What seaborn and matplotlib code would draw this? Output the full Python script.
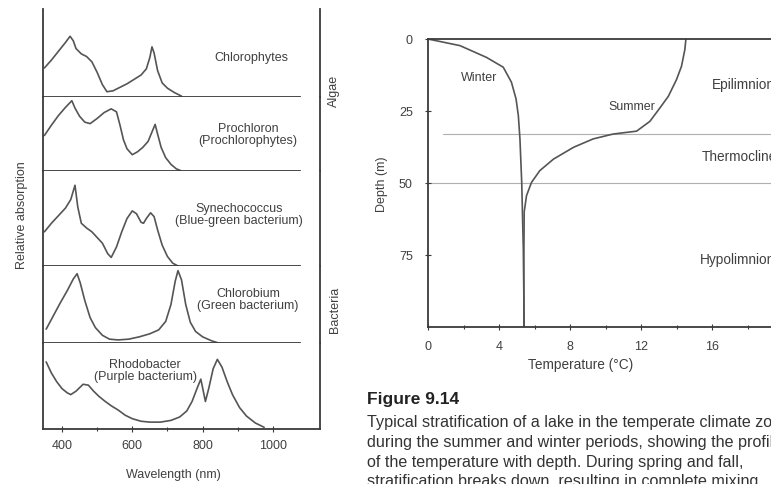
import numpy as np
import pandas as pd
import seaborn as sns
import matplotlib.pyplot as plt

W, H = 771, 485
INK = '#3a3a3a'
LINE = '#555555'
TXT = '#404040'

# absorption spectra, relative absorption (0-1 of each strip)
chloro_nm = [350, 370, 390, 410, 423, 432, 440, 455, 470, 485, 500, 515, 528, 545, 565, 585,
             605, 625, 640, 650, 656, 662, 672, 685, 700, 720, 740]
chloro_abs = [0.33, 0.42, 0.52, 0.62, 0.69, 0.64, 0.55, 0.49, 0.46, 0.40, 0.28, 0.14, 0.06, 0.07,
              0.11, 0.15, 0.20, 0.25, 0.32, 0.45, 0.57, 0.50, 0.30, 0.16, 0.10, 0.05, 0.01]

prochl_nm = [350, 370, 390, 410, 428, 437, 450, 465, 480, 500, 520, 540, 555, 565, 575, 585, 600,
             615, 630, 645, 658, 665, 672, 682, 695, 710, 725, 740]
prochl_abs = [0.48, 0.62, 0.75, 0.86, 0.95, 0.85, 0.74, 0.66, 0.64, 0.71, 0.79, 0.84, 0.80, 0.62,
              0.42, 0.30, 0.22, 0.26, 0.32, 0.40, 0.55, 0.63, 0.50, 0.32, 0.18, 0.09, 0.03, 0.0]

synech_nm = [350, 370, 390, 410, 425, 437, 445, 455, 470, 485, 500, 515, 530, 540, 555, 570, 585,
             600, 612, 625, 632, 640, 652, 662, 672, 685, 700, 715, 730]
synech_abs = [0.36, 0.45, 0.53, 0.61, 0.70, 0.85, 0.62, 0.45, 0.40, 0.36, 0.30, 0.24, 0.13, 0.09,
              0.20, 0.36, 0.50, 0.58, 0.55, 0.46, 0.45, 0.50, 0.56, 0.52, 0.38, 0.22, 0.10, 0.03, 0.0]

chlorob_nm = [355, 375, 395, 415, 432, 443, 452, 465, 480, 495, 515, 535, 560, 590, 620, 650, 675,
              695, 710, 722, 730, 740, 752, 765, 780, 800, 825, 845]
chlorob_abs = [0.18, 0.35, 0.52, 0.68, 0.83, 0.90, 0.78, 0.55, 0.33, 0.20, 0.10, 0.05, 0.04, 0.05,
               0.08, 0.12, 0.17, 0.28, 0.50, 0.80, 0.94, 0.82, 0.50, 0.27, 0.15, 0.08, 0.03, 0.0]

rhodo_nm = [355, 370, 385, 400, 415, 425, 440, 460, 475, 490, 505, 520, 540, 560, 580, 600, 625,
            650, 680, 710, 735, 755, 770, 785, 795, 802, 808, 818, 830, 842, 855, 870, 885, 905,
            925, 950, 975]
rhodo_abs = [0.78, 0.65, 0.55, 0.47, 0.42, 0.40, 0.44, 0.52, 0.51, 0.44, 0.38, 0.33, 0.27, 0.22,
             0.16, 0.12, 0.09, 0.08, 0.08, 0.10, 0.14, 0.21, 0.32, 0.48, 0.58, 0.44, 0.32, 0.48,
             0.70, 0.81, 0.72, 0.55, 0.40, 0.25, 0.15, 0.07, 0.02]

organisms = ['Chlorophytes', 'Prochloron\n(Prochlorophytes)', 'Synechococcus\n(Blue-green bacterium)',
             'Chlorobium\n(Green bacterium)', 'Rhodobacter\n(Purple bacterium)']
spectra = [(chloro_nm, chloro_abs), (prochl_nm, prochl_abs), (synech_nm, synech_abs),
           (chlorob_nm, chlorob_abs), (rhodo_nm, rhodo_abs)]
wl_ticks = [400, 600, 800, 1000]

# lake temperature profiles (temperature C, depth m)
winter_temp = [0, 1.8, 3.3, 4.24, 4.7, 4.96, 5.09, 5.18, 5.28, 5.37, 5.42]
winter_depth = [0, 2.3, 6.4, 9.8, 15, 20.8, 26.6, 34.7, 49.8, 73, 100]
summer_temp = [14.53, 14.47, 14.28, 14.0, 13.54, 13.07, 12.5, 11.75, 10.43, 9.3, 8.2, 7.07, 6.3,
               5.83, 5.55, 5.42, 5.4, 5.4]
summer_depth = [0, 3.7, 9.5, 14.1, 19.9, 23.9, 28.6, 32, 33, 34.7, 37.6, 41.7, 45.7, 49.8, 54.4,
                60, 75, 100]
layer_bounds = [33, 50]
layers = ['Epilimnion', 'Thermocline', 'Hypolimnion']

caption_title = 'Figure 9.14'
caption_lines = ['Typical stratification of a lake in the temperate climate zone',
                 'during the summer and winter periods, showing the profile',
                 'of the temperature with depth. During spring and fall,',
                 'stratification breaks down, resulting in complete mixing']

sns.set_theme(style='white')
plt.rcParams['font.family'] = ['Liberation Sans', 'DejaVu Sans']
plt.rcParams['axes.edgecolor'] = INK
plt.rcParams['xtick.color'] = INK
plt.rcParams['ytick.color'] = INK
FS = 9


def px(x, y):
    return x / W, 1 - y / H


fig = plt.figure(figsize=(W / 100, H / 100), dpi=100)

# ---- left: stacked absorption spectra
rows = []
for name, (nm, ab) in zip(organisms, spectra):
    rows.append(pd.DataFrame({'organism': name, 'wavelength': nm, 'absorption': ab}))
spec_df = pd.concat(rows, ignore_index=True)

gs = fig.add_gridspec(5, 1, left=43 / W, right=320 / W, top=1 - 10 / H, bottom=1 - 430 / H,
                      hspace=0, height_ratios=[88, 74, 95, 77, 86])
label_pos = [(251, 58), (248, 135), (239, 215), (248, 300), (145, 371)]
for i, name in enumerate(organisms):
    ax = fig.add_subplot(gs[i])
    sns.lineplot(data=spec_df[spec_df['organism'] == name], x='wavelength', y='absorption',
                 ax=ax, color=LINE, lw=1.2, legend=False)
    ax.set_xlim(346, 1134)
    ax.set_ylim(0, 1)
    ax.set_xlabel('')
    ax.set_ylabel('')
    ax.set_yticks([])
    ax.spines['top'].set_visible(False)
    for s in ['left', 'right', 'bottom']:
        ax.spines[s].set_linewidth(1.3)
    if i < 4:
        ax.spines['bottom'].set_bounds(346, 1077)
        ax.tick_params(bottom=False, labelbottom=False)
    else:
        ax.set_xticks(wl_ticks)
        ax.set_xticks([500, 700, 900], minor=True)
        ax.tick_params(axis='x', which='both', bottom=True, direction='inout', length=4,
                       width=0.8, labelsize=FS, labelcolor=TXT, pad=5)
        ax.tick_params(axis='x', which='minor', length=3)
    fig.text(*px(*label_pos[i]), name, ha='center', va='center', fontsize=FS, color=TXT,
             linespacing=1.1)

fig.text(*px(173, 475), 'Wavelength (nm)', ha='center', va='center', fontsize=FS, color=TXT)
fig.text(*px(22, 215), 'Relative absorption', rotation=90, ha='center', va='center',
         fontsize=FS, color=TXT)
fig.text(*px(334, 91), 'Algae', rotation=90, ha='center', va='center', fontsize=FS, color=TXT)
fig.text(*px(335, 310), 'Bacteria', rotation=90, ha='center', va='center', fontsize=FS, color=TXT)

# ---- right: lake stratification
ax2 = fig.add_axes([428 / W, 1 - 328 / H, (783 - 428) / W, (328 - 40) / H])
sns.lineplot(x=winter_temp, y=winter_depth, sort=False, estimator=None, ax=ax2, color=LINE, lw=1.2)
sns.lineplot(x=summer_temp, y=summer_depth, sort=False, estimator=None, ax=ax2, color=LINE, lw=1.2)
ax2.axhline(layer_bounds[0], xmin=0.85 / 20, color='#b0b0b0', lw=0.8, zorder=0)
ax2.axhline(layer_bounds[1], color='#b0b0b0', lw=0.8, zorder=0)
ax2.set_xlim(0, 20)
ax2.set_ylim(100, 0)
ax2.spines['right'].set_visible(False)
for s in ['left', 'top', 'bottom']:
    ax2.spines[s].set_linewidth(1.3)
ax2.set_xticks([0, 4, 8, 12, 16])
ax2.set_xticks([2, 6, 10, 14, 18], minor=True)
ax2.set_yticks([0, 25, 50, 75])
ax2.tick_params(which='both', direction='inout', length=4, width=0.8, labelsize=FS,
                labelcolor=TXT, left=True, bottom=True)
ax2.tick_params(axis='y', pad=9)
ax2.tick_params(axis='x', pad=7)
ax2.tick_params(which='minor', length=3)
ax2.set_xlabel('')
ax2.set_ylabel('Depth (m)', fontsize=FS, color=TXT, labelpad=8)
fig.text(*px(581, 365), 'Temperature (\u00b0C)', ha='center', va='center', fontsize=9.8,
         color=TXT)

ax2.text(2.9, 13.2, 'Winter', ha='center', va='center', fontsize=FS, color=TXT)
ax2.text(11.5, 23.3, 'Summer', ha='center', va='center', fontsize=FS, color=TXT)
for name, (t, d) in zip(layers, [(16.0, 15.6), (15.4, 40.6), (15.3, 76.4)]):
    ax2.text(t, d, name, ha='left', va='center', fontsize=9.8, color=TXT, clip_on=False)

# ---- caption
fig.text(*px(367, 400), caption_title, ha='left', va='center', fontsize=12.5, fontweight='bold',
         color='#222222')
for k, line in enumerate(caption_lines):
    fig.text(*px(367, 423 + 19.6 * k), line, ha='left', va='center', fontsize=11.6,
             color='#333333')

fig.savefig('out.png', dpi=100)
